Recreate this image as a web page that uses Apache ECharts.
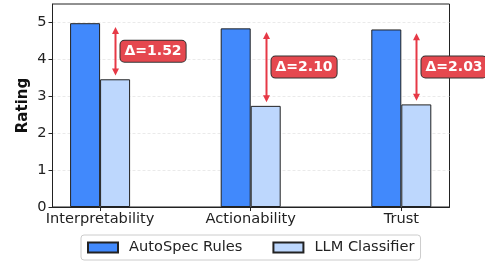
<!DOCTYPE html>
<html>
<head>
<meta charset="utf-8">
<script src="https://cdn.jsdelivr.net/npm/echarts@6/dist/echarts.min.js"></script>
<style>
  html, body { margin: 0; padding: 0; background: #fff; }
  #chart { width: 485px; height: 261px; }
</style>
</head>
<body>
<div id="chart"></div>
<script>
// data
var categories = ['Interpretability', 'Actionability', 'Trust'];
var autoSpec = [4.98, 4.84, 4.81];
var llmClassifier = [3.46, 2.74, 2.78];
var yTicks = [0, 1, 2, 3, 4, 5];

var FONT = 'DejaVu Sans';
var catIdx = categories.map(function (c, i) { return i; });

var chart = echarts.init(document.getElementById('chart'));

var option = {
  animation: false,
  grid: {
    left: 52.5, right: 35.5, top: 4, bottom: 54,
    show: true, borderColor: '#222', borderWidth: 1
  },
  xAxis: {
    type: 'value',
    min: -0.316, max: 2.32,
    axisLine: { onZero: false, lineStyle: { color: '#222' } },
    axisTick: { customValues: catIdx, length: 4, lineStyle: { color: '#222' } },
    axisLabel: {
      customValues: catIdx,
      formatter: function (v) { return categories[Math.round(v)]; },
      color: '#222', fontFamily: FONT, fontSize: 14.6, margin: 5
    },
    splitLine: { show: false }
  },
  yAxis: {
    type: 'value',
    min: 0, max: 5.5,
    name: 'Rating',
    nameLocation: 'middle',
    nameGap: 22,
    nameMoveOverlap: false,
    nameTextStyle: { fontFamily: FONT, fontSize: 15, fontWeight: 'bold', color: '#111' },
    axisLine: { show: true, onZero: false, lineStyle: { color: '#222' } },
    axisTick: { show: true, customValues: yTicks, length: 4, lineStyle: { color: '#222' } },
    axisLabel: { customValues: yTicks, color: '#222', fontFamily: FONT, fontSize: 14.6, margin: 6 },
    splitLine: { show: true, lineStyle: { color: '#e4e4e4', type: [3, 2], width: 0.8 } }
  },
  legend: {
    bottom: 1,
    left: 81,
    icon: 'rect',
    itemWidth: 30, itemHeight: 10, itemGap: 30,
    padding: [5, 6],
    borderColor: '#ccc', borderWidth: 1, borderRadius: 3,
    textStyle: { fontFamily: FONT, fontSize: 14.6, color: '#222', padding: [0, 0, 0, 6] },
    data: ['AutoSpec Rules', 'LLM Classifier']
  },
  series: [
    {
      name: 'AutoSpec Rules',
      type: 'bar',
      barWidth: 30,
      barGap: '0%',
      itemStyle: { color: '#4189fc', borderColor: '#222', borderWidth: 1 },
      data: catIdx.map(function (i) { return [i, autoSpec[i]]; })
    },
    {
      name: 'LLM Classifier',
      type: 'bar',
      barWidth: 30,
      barGap: '0%',
      itemStyle: { color: '#bdd7fd', borderColor: '#222', borderWidth: 1 },
      data: catIdx.map(function (i) { return [i, llmClassifier[i]]; })
    },
    {
      // delta arrows + labels
      type: 'custom',
      clip: false,
      z: 10,
      silent: true,
      renderItem: function (params, api) {
        var i = api.value(0), hi = api.value(1), lo = api.value(2);
        var top = api.coord([i + 0.1, hi - 0.1]);
        var bot = api.coord([i + 0.1, lo + 0.1]);
        var x = Math.round(top[0]) + 0.5;
        var hl = 7, hw = 3.5, col = '#e63946';
        var midY = (top[1] + bot[1]) / 2;
        return {
          type: 'group',
          children: [
            { type: 'line', shape: { x1: x, y1: top[1] + hl - 1, x2: x, y2: bot[1] - hl + 1 },
              style: { stroke: col, lineWidth: 2 } },
            { type: 'polygon', shape: { points: [[x, top[1]], [x - hw, top[1] + hl], [x + hw, top[1] + hl]] },
              style: { fill: col } },
            { type: 'polygon', shape: { points: [[x, bot[1]], [x - hw, bot[1] - hl], [x + hw, bot[1] - hl]] },
              style: { fill: col } },
            { type: 'text', x: x + 5, y: midY,
              style: {
                text: 'Δ=' + (hi - lo).toFixed(2),
                fill: '#fff', font: 'bold 14px "DejaVu Sans"',
                verticalAlign: 'middle', align: 'left',
                backgroundColor: '#e5484f', borderColor: '#333', borderWidth: 1,
                borderRadius: 4, padding: [4, 4, 3, 4]
              } }
          ]
        };
      },
      data: catIdx.map(function (i) { return [i, autoSpec[i], llmClassifier[i]]; })
    }
  ]
};

chart.setOption(option);
</script>
</body>
</html>
